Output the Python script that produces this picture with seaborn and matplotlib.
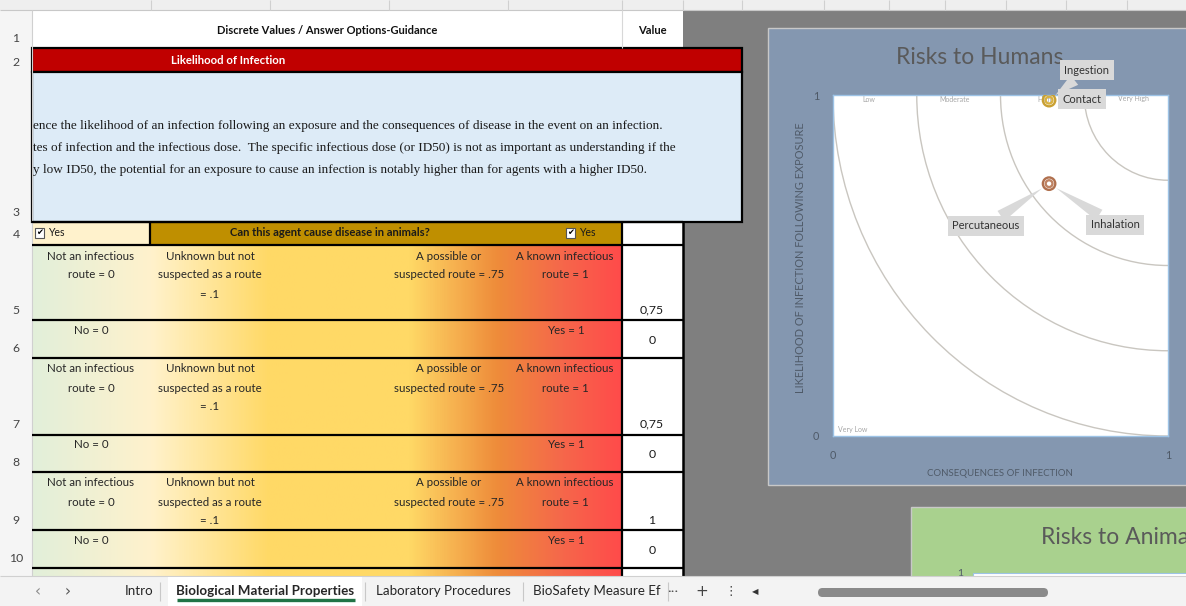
import numpy as np
import pandas as pd
import seaborn as sns
import matplotlib
matplotlib.use("Agg")
import matplotlib.pyplot as plt
from matplotlib.patches import Rectangle, Arc, FancyBboxPatch
from matplotlib.colors import LinearSegmentedColormap

# ---------------- data ----------------
value_labels = ['0,75', '0', '0,75', '0', '1', '0']
routes = ['Ingestion', 'Contact', 'Percutaneous', 'Inhalation']
consequences = [0.645, 0.645, 0.645, 0.645]
likelihood = [0.985, 0.985, 0.74, 0.74]
route_colors = ['#C9A032', '#D8B040', '#B0704E', '#BE8262']
zone_radii = [0.25, 0.5, 0.75, 1.0]
zone_names = ['Very Low', 'Low', 'Moderate', 'High', 'Very High']
tab_names = ['Intro', 'Biological Material Properties', 'Laboratory Procedures', 'BioSafety Measure Ef']
route_options = ['Not an infectious\nroute = 0', 'Unknown but not\nsuspected as a route\n= .1',
                 'A possible or\nsuspected route = .75', 'A known infectious\nroute = 1']
yes_no = ['No = 0', 'Yes = 1']

sns.set_theme(style='white')
plt.rcParams['font.family'] = ['Lato', 'DejaVu Sans']

W, H = 1186, 606
fig = plt.figure(figsize=(W / 100, H / 100), dpi=100)
bg = fig.add_axes([0, 0, 1, 1])
bg.set_xlim(0, W)
bg.set_ylim(H, 0)
bg.axis('off')


def rect(x0, y0, x1, y1, fc, ec='none', lw=0, z=1):
    bg.add_patch(Rectangle((x0, y0), x1 - x0, y1 - y0, facecolor=fc, edgecolor=ec, linewidth=lw, zorder=z))


def hline(x0, x1, y, c='black', lw=1.6, z=4):
    bg.plot([x0, x1], [y, y], color=c, lw=lw, zorder=z, solid_capstyle='butt')


def vline(x, y0, y1, c='black', lw=1.6, z=4):
    bg.plot([x, x], [y0, y1], color=c, lw=lw, zorder=z, solid_capstyle='butt')


def txt(x, y, s, size=7.5, color='#262626', ha='center', va='center', z=6, **kw):
    bg.text(x, y, s, fontsize=size, color=color, ha=ha, va=va, zorder=z, **kw)


# ---------------- spreadsheet background ----------------
rect(0, 0, W, H, '#FFFFFF', z=0)
rect(683, 10, W, 576, '#7F7F7F', z=0.5)
rect(0, 0, W, 10, '#EFEFEF', z=1)
hline(0, W, 10, c='#C8C8C8', lw=0.8)
for cx in [151, 270, 389, 508, 622, 683, 742, 824, 889, 945, 1006, 1066, 1127]:
    vline(cx, 0, 10, c='#D0D0D0', lw=0.8)
rect(0, 10, 32, 576, '#F5F5F5', z=1)
vline(32, 10, 576, c='#D0D0D0', lw=0.8)
row_edges = [10, 48, 72, 222, 245, 320, 358, 435, 472, 530, 568]
for i, yb in enumerate(row_edges[1:]):
    txt(16, yb - 10, str(i + 1), size=8.8, color='#444444', z=7)

# row 1 header
txt(327, 30, 'Discrete Values / Answer Options-Guidance', size=8, weight='bold', color='#111111')
txt(652, 30, 'Value', size=8, weight='bold', color='#111111')
vline(622, 10, 48, c='#D8D8D8', lw=0.8)

# row 2 red band
rect(32, 48, 742, 72, '#C00000', ec='black', lw=1.6, z=3)
txt(228, 61, 'Likelihood of Infection', size=8.2, weight='bold', color='white')

# row 3 text box
rect(32, 72, 742, 222, '#DDEBF7', ec='black', lw=1.6, z=3)
box_lines = ['ence the likelihood of an infection following an exposure and the consequences of disease in the event on an infection.',
             'tes of infection and the infectious dose.  The specific infectious dose (or ID50) is not as important as understanding if the',
             'y low ID50, the potential for an exposure to cause an infection is notably higher than for agents with a higher ID50.']
for i, line in enumerate(box_lines):
    bg.text(33, 126 + 22 * i, line, fontsize=9.5, family=['Liberation Serif', 'DejaVu Serif'],
            color='#1A1A1A', ha='left', va='center', zorder=6)

# row 4
rect(32, 222, 150, 245, '#FFF2CC', z=2)
rect(150, 222, 622, 245, '#BF8F00', z=2)
rect(622, 222, 683, 245, '#FFFFFF', z=2)
txt(330, 233, 'Can this agent cause disease in animals?', size=8.1, weight='bold', color='#1A1A1A')
for bx in [35, 566]:
    rect(bx, 228, bx + 9, 238, '#FFFFFF', ec='#555555', lw=0.8, z=5)
    bg.text(bx + 4.5, 233, '\u2714', fontsize=6, family='DejaVu Sans', ha='center', va='center', zorder=6, color='black')
    txt(bx + 13, 233, 'Yes', size=7.6, ha='left', color='#1A1A1A')

# gradient rows
grad_cmap = LinearSegmentedColormap.from_list('excel_grad', [
    (0.0, '#E2EFDA'), (0.2, '#FFF2CC'), (0.4, '#FFD966'), (0.64, '#FFD966'),
    (0.71, '#F7B552'), (0.79, '#EE8C3A'), (0.895, '#F5694A'), (1.0, '#FF4B4B')])
bg.imshow(np.linspace(0, 1, 600).reshape(1, -1), cmap=grad_cmap, extent=(32, 622, 576, 245),
          aspect='auto', zorder=1.5, interpolation='bilinear')
rect(622, 245, 683, 576, '#FFFFFF', z=1.6)

option_x = [91, 210, 449, 565]
route_row_tops = [245, 358, 472]
yn_row_tops = [320, 435, 530]
for top in route_row_tops:
    for ox, opt in zip(option_x, route_options):
        for j, part in enumerate(opt.split('\n')):
            txt(ox, top + 11 + 19 * j, part, size=8.3, color='#262626')
for top in yn_row_tops:
    txt(option_x[0], top + 10, yes_no[0], size=8.3)
    txt(566, top + 10, yes_no[1], size=8.3)

value_y = [310, 340, 424, 455, 520, 550]
for vy, lab in zip(value_y, value_labels):
    txt(652, vy, lab, size=8.8, color='#1A1A1A')

for yb in [222, 245, 320, 358, 435, 472, 530, 568]:
    hline(32, 683, yb)
vline(150, 222, 245)
vline(622, 222, 576)
vline(683, 222, 576, lw=1.8)

# ---------------- chart area: Risks to Humans ----------------
rect(768, 28, 1200, 485, '#8497B0', ec='#C8C8C8', lw=1.0, z=2)
txt(980, 57, 'Risks to Humans', size=16.5, color='#5A5A5A', z=3)
txt(1000, 474, 'CONSEQUENCES OF INFECTION', size=6.9, color='#4F5A68', z=3)
bg.text(800, 258, 'LIKELIHOOD OF INFECTION FOLLOWING EXPOSURE', rotation=90, fontsize=7.9,
        color='#4F5A68', ha='center', va='center', zorder=3)

# ---------------- chart area: Risks to Animals ----------------
rect(911, 507, 1200, 600, '#A9D18E', ec='#C8C8C8', lw=1.0, z=2)
txt(1041, 537, 'Risks to Animals', size=16.5, color='#5A5A5A', ha='left', z=3)
rect(973, 573, 1200, 600, '#FFFFFF', ec='#9DC3E6', lw=0.8, z=3)
txt(960, 573, '1', size=7.5, color='#505A66', z=3)

# ---------------- sheet tab bar ----------------
rect(0, 576, W, H, '#F3F3F3', z=8)
hline(0, W, 576, c='#D0D0D0', lw=0.8, z=8)
rect(168, 577, 362, H, '#FFFFFF', z=8.5)
hline(177, 355, 600, c='#217346', lw=2.4, z=9)
txt(38, 592, '\u2039', size=11, color='#8A8A8A', z=9, family='DejaVu Sans')
txt(68, 592, '\u203A', size=11, color='#555555', z=9, family='DejaVu Sans')
tab_x = [139, 265, 443, 597]
for i, (tx, name) in enumerate(zip(tab_x, tab_names)):
    txt(tx, 591, name, size=9.6, color='#262626', z=9, weight='bold' if i == 1 else 'normal')
for sx in [160, 365, 523, 668]:
    vline(sx, 582, 601, c='#C8C8C8', lw=0.8, z=9)
txt(673, 592, '\u2022\u2022\u2022', size=4.5, color='#444444', z=9, family='DejaVu Sans')
txt(702, 592, '+', size=11, color='#444444', z=9, family='DejaVu Sans')
txt(731, 592, '\u22EE', size=9, color='#444444', z=9, family='DejaVu Sans')
txt(755, 592, '\u25C0', size=6, color='#333333', z=9, family='DejaVu Sans')
bg.add_patch(FancyBboxPatch((818, 588), 230, 9, boxstyle='round,pad=0,rounding_size=4.5',
                            facecolor='#8A8A8A', edgecolor='none', zorder=9))

# ---------------- risk chart (seaborn) ----------------
ax = fig.add_axes([833 / W, 1 - 436 / H, 335 / W, 341 / H], zorder=5)
ax.set_facecolor('white')
ax.set_xlim(0, 1)
ax.set_ylim(0, 1)
for r in zone_radii:
    ax.add_patch(Arc((1, 1), 2 * r, 2 * r, theta1=180, theta2=270, color='#C9C6C0', lw=1.0, zorder=1))

zone_pos = [(0.06, 0.018), (0.107, 0.988), (0.364, 0.988), (0.633, 0.988), (0.896, 0.991)]
for name, (zx, zy) in zip(zone_names, zone_pos):
    ax.text(zx, zy, name, fontsize=5, color='#A6A6A6', ha='center', va='center', zorder=2)

df = pd.DataFrame({'route': routes, 'consequences': consequences, 'likelihood': likelihood})
marker_sizes = [80, 24, 80, 24]
for i, row in df.iterrows():
    sns.scatterplot(x=[row['consequences']], y=[row['likelihood']], ax=ax, s=marker_sizes[i],
                    marker='o', color=route_colors[i], facecolor='none', edgecolor=route_colors[i],
                    linewidth=1.7, zorder=6, legend=False)

label_pos = {'Ingestion': (0.758, 1.073), 'Contact': (0.742, 0.988),
             'Percutaneous': (0.457, 0.616), 'Inhalation': (0.842, 0.619)}
for i, row in df.iterrows():
    lx, ly = label_pos[row['route']]
    ap = None
    if row['route'] != 'Contact':
        ap = dict(arrowstyle='wedge,tail_width=1.1,shrink_factor=0.5', fc='#D9D9D9', ec='none',
                  shrinkA=0, shrinkB=6)
    ax.annotate(row['route'], xy=(row['consequences'], row['likelihood']), xytext=(lx, ly),
                textcoords='data', fontsize=8, color='#333333', ha='center', va='center',
                bbox=dict(boxstyle='square,pad=0.4', fc='#D9D9D9', ec='none'),
                arrowprops=ap, annotation_clip=False, zorder=8)

ax.set_xticks([0, 1])
ax.set_yticks([0, 1])
ax.set_xticklabels(['0', '1'])
ax.set_yticklabels(['0', '1'])
ax.tick_params(axis='both', length=0, labelsize=7.8, labelcolor='#4F5A68', pad=10)
ax.set_xlabel('')
ax.set_ylabel('')
for sp in ax.spines.values():
    sp.set_color('#9DC3E6')
    sp.set_linewidth(1.0)

fig.savefig('out.png', dpi=100)
